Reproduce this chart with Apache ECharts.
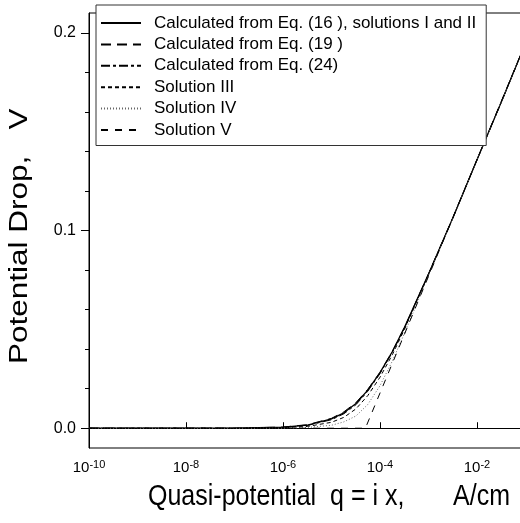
<!DOCTYPE html>
<html>
<head>
<meta charset="utf-8">
<script src="https://cdn.jsdelivr.net/npm/echarts@6/dist/echarts.min.js"></script>
<style>
  html, body { margin: 0; padding: 0; background: #fff; }
  #chart { width: 520px; height: 523px; }
</style>
</head>
<body>
<div id="chart"></div>
<script>
// quasi-potential q (A/cm), shared by the smooth curves
const qValues = [1e-10, 1e-7, 1e-6, 3.2e-6, 1e-5, 1.8e-5, 3.2e-5, 5.6e-5, 1e-4, 1.8e-4, 3.2e-4, 1e-3, 3.2e-3, 1e-2, 3.2e-2, 1e-1, 1]

// potential drop (V)
const eq16 = [0, 0, 0.0005, 0.0016, 0.0047, 0.0078, 0.0125, 0.0193, 0.0281, 0.0388, 0.051, 0.078, 0.1066, 0.1358, 0.1652, 0.1947, 0.2537]
const eq19 = [0, 0, 0.0006, 0.0018, 0.005, 0.0083, 0.013, 0.0197, 0.0283, 0.0389, 0.051, 0.078, 0.1066, 0.1358, 0.1652, 0.1947, 0.2537]
const eq24 = [0, 0, 0.0004, 0.0014, 0.0043, 0.0073, 0.0119, 0.0187, 0.0276, 0.0384, 0.0507, 0.0779, 0.1066, 0.1358, 0.1652, 0.1947, 0.2537]
const sol3 = [0, 0, 0.0002, 0.0009, 0.003, 0.0055, 0.0098, 0.0165, 0.0258, 0.0372, 0.05, 0.0778, 0.1065, 0.1358, 0.1652, 0.1947, 0.2537]
const sol4 = [0, 0, 0, 0.0004, 0.0015, 0.0032, 0.0062, 0.012, 0.0215, 0.034, 0.048, 0.0772, 0.1063, 0.1357, 0.1652, 0.1947, 0.2537]

// solution V: broken line with a corner
const qSol5 = [1e-10, 5e-5, 1e-4, 1e-3, 1e-2, 1e-1, 1]
const sol5 = [0, 0, 0.0178, 0.0768, 0.1358, 0.1948, 0.2538]

// y tick values
const yMajorTicks = [0, 0.1, 0.2]
const yMinorTicks = [0.02, 0.04, 0.06, 0.08, 0.12, 0.14, 0.16, 0.18]

const seriesNames = [
  'Calculated from Eq. (16 ), solutions I and II',
  'Calculated from Eq. (19 )',
  'Calculated from Eq. (24)',
  'Solution III',
  'Solution IV',
  'Solution V'
]

function pairs(xs, ys) {
  return xs.map((x, i) => [x, ys[i]])
}

const chart = echarts.init(document.getElementById('chart'))

const font = 'Liberation Sans, Arial, sans-serif'

function lineSeries(name, data, style) {
  return {
    name: name,
    type: 'line',
    data: data,
    symbol: 'none',
    smooth: false,
    z: 3,
    lineStyle: Object.assign({ color: '#000', width: 1 }, style),
    itemStyle: { color: '#000' }
  }
}

chart.setOption({
  animation: false,
  backgroundColor: '#fff',
  grid: {
    left: 89,
    top: 13,
    width: 485,
    height: 435,
    outerBoundsMode: 'none',
    show: true,
    borderColor: '#000',
    borderWidth: 1
  },
  legend: {
    orient: 'vertical',
    left: 96,
    top: 5,
    padding: [9.5, 10, 7, 4],
    itemGap: 4.4,
    itemWidth: 40,
    itemHeight: 14,
    backgroundColor: '#fff',
    borderColor: '#333',
    borderWidth: 1,
    borderRadius: 0,
    data: seriesNames,
    itemStyle: { opacity: 0 },
    textStyle: { fontFamily: font, fontSize: 17, lineHeight: 17, color: '#000', padding: [0, 0, 0, 8] },
    z: 10
  },
  xAxis: {
    type: 'log',
    logBase: 10,
    min: 1e-10,
    max: 1,
    interval: 2,
    axisLine: { show: true, lineStyle: { color: '#000', width: 1 } },
    axisTick: { show: true, inside: true, length: 6, lineStyle: { color: '#000' } },
    splitLine: { show: false },
    axisLabel: {
      margin: 11,
      color: '#000',
      fontFamily: font,
      fontSize: 15,
      formatter: function (v) {
        const e = Math.round(Math.log10(v))
        return '10{sup|' + e + '}'
      },
      rich: {
        sup: { fontSize: 11, fontFamily: font, color: '#000', verticalAlign: 'top', padding: [0, 0, 7, 0] }
      }
    }
  },
  yAxis: [
    {
      type: 'value',
      min: -0.01,
      max: 0.21,
      position: 'left',
      axisLine: { show: true, lineStyle: { color: '#000', width: 1 } },
      axisTick: { show: true, length: 8, customValues: yMajorTicks, lineStyle: { color: '#000' } },
      axisLabel: {
        customValues: yMajorTicks,
        margin: 13,
        color: '#000',
        fontFamily: font,
        fontSize: 16,
        formatter: function (v) { return v.toFixed(1) }
      },
      splitLine: { show: false }
    },
    {
      type: 'value',
      min: -0.01,
      max: 0.21,
      position: 'left',
      axisLine: { show: false },
      axisTick: { show: true, length: 4, customValues: yMinorTicks, lineStyle: { color: '#000' } },
      axisLabel: { show: false },
      splitLine: { show: false }
    }
  ],
  graphic: [
    {
      type: 'text',
      x: 148,
      y: 483,
      scaleY: 1.15,
      style: {
        text: 'Quasi-potential  q = i x,       A/cm',
        font: '25px ' + font,
        fill: '#000'
      }
    },
    {
      type: 'text',
      x: 8,
      y: 364,
      rotation: Math.PI / 2,
      scaleX: 1.26,
      style: {
        text: 'Potential Drop,   V',
        font: '25px ' + font,
        fill: '#000',
        textVerticalAlign: 'top'
      }
    }
  ],
  series: [
    lineSeries(seriesNames[0], pairs(qValues, eq16), { type: 'solid', width: 1.3 }),
    lineSeries(seriesNames[1], pairs(qValues, eq19), { type: [10, 6] }),
    lineSeries(seriesNames[2], pairs(qValues, eq24), { type: [9, 3, 3, 3] }),
    lineSeries(seriesNames[3], pairs(qValues, sol3), { type: [4, 3] }),
    lineSeries(seriesNames[4], pairs(qValues, sol4), { type: [1, 2], color: '#666' }),
    lineSeries(seriesNames[5], pairs(qSol5, sol5), { type: [7, 7] })
  ]
})
</script>
</body>
</html>
